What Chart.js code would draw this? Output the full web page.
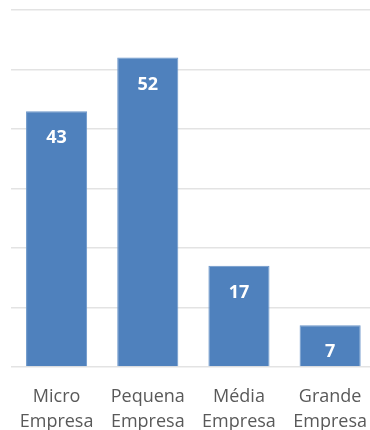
<!DOCTYPE html>
<html>
<head>
<meta charset="utf-8">
<script src="https://cdn.jsdelivr.net/npm/chart.js@4"></script>
<style>
  html, body { margin: 0; padding: 0; background: #fff; overflow: hidden; }
  #wrap { width: 370px; height: 430px; overflow: hidden; }
</style>
</head>
<body>
<div id="wrap"><canvas id="grafico" width="376" height="430"></canvas></div>
<script>
const categorias = [['Micro', 'Empresa'], ['Pequena', 'Empresa'], ['Média', 'Empresa'], ['Grande', 'Empresa']];
const empresas = [43, 52, 17, 7];

// rótulos de valor dentro das barras
const rotulos = {
    id: 'rotulos',
    afterDatasetsDraw(chart) {
        const ctx = chart.ctx;
        const meta = chart.getDatasetMeta(0);
        ctx.save();
        ctx.fillStyle = '#ffffff';
        ctx.font = 'bold 18px "Open Sans"';
        ctx.textAlign = 'center';
        ctx.textBaseline = 'middle';
        meta.data.forEach((bar, i) => {
            ctx.fillText(empresas[i], bar.x, bar.y + 27);
        });
        ctx.restore();
    }
};

new Chart(document.getElementById('grafico'), {
    type: 'bar',
    data: {
        labels: categorias,
        datasets: [{
            data: empresas,
            backgroundColor: '#4F81BD',
            borderColor: '#6a95c9',
            borderWidth: 1,
            categoryPercentage: 1,
            barPercentage: 0.67
        }]
    },
    options: {
        responsive: false,
        animation: false,
        layout: { padding: { left: 11, top: 10, right: 0, bottom: 0 } },
        plugins: {
            legend: { display: false },
            tooltip: { enabled: false }
        },
        scales: {
            x: {
                grid: { display: false },
                border: { display: false },
                afterFit(scale) { scale.height = 63; },
                ticks: {
                    color: '#595959',
                    font: { family: 'Open Sans', size: 18, lineHeight: 1.42 },
                    padding: 9,
                    maxRotation: 0,
                    autoSkip: false
                }
            },
            y: {
                min: 0,
                max: 60,
                ticks: { display: false, stepSize: 10 },
                border: { display: false },
                grid: { color: '#e3e3e3', lineWidth: 1.5, drawTicks: false }
            }
        }
    },
    plugins: [rotulos]
});
</script>
</body>
</html>
